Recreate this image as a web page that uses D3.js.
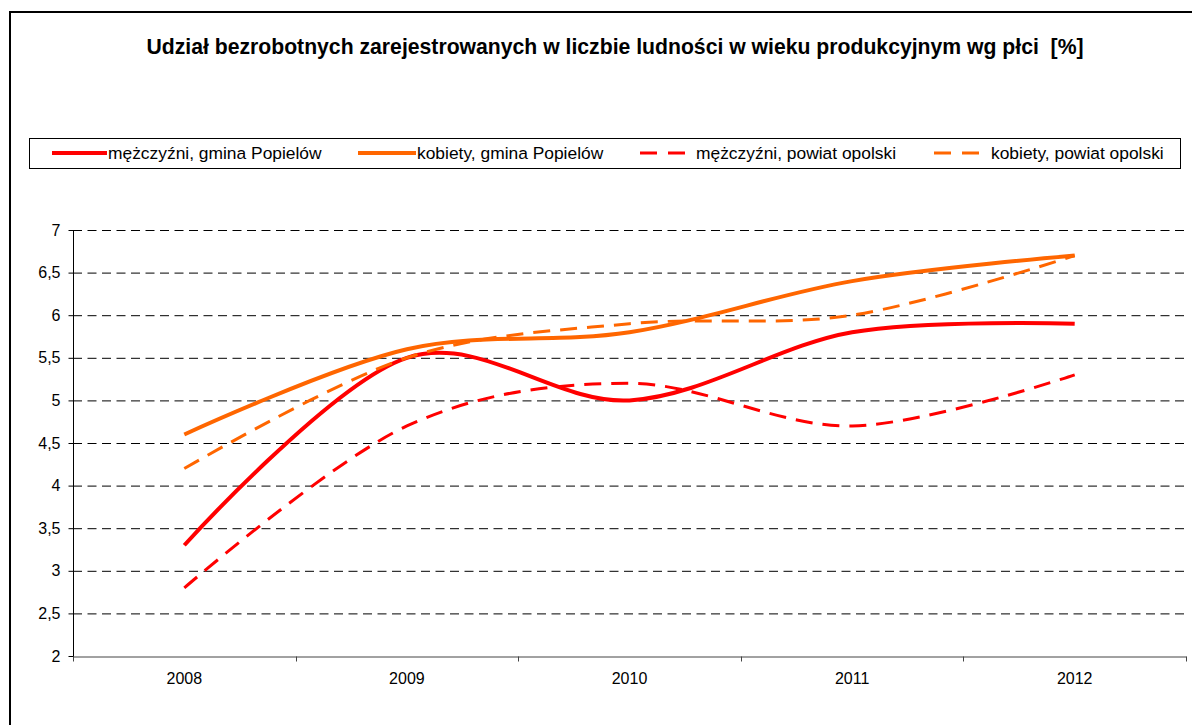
<!DOCTYPE html>
<html><head><meta charset="utf-8">
<script src="https://cdn.jsdelivr.net/npm/d3@7"></script>
<style>body{margin:0;background:#fff}svg{display:block;font-family:"Liberation Sans",Arial,sans-serif}</style>
</head><body>
<svg id="c" width="1192" height="725"></svg>
<script>
const title = "Udział bezrobotnych zarejestrowanych w liczbie ludności w wieku produkcyjnym wg płci  [%]";
const years = ["2008","2009","2010","2011","2012"];
const menGmina = [3.3, 5.5, 5.0, 5.8, 5.9];
const womenGmina = [4.6, 5.6, 5.8, 6.4, 6.7];
const menPowiat = [2.8, 4.7, 5.2, 4.7, 5.3];
const womenPowiat = [4.2, 5.5, 5.9, 6.0, 6.7];
const yTicks = [2, 2.5, 3, 3.5, 4, 4.5, 5, 5.5, 6, 6.5, 7];
const seriesNames = ["mężczyźni, gmina Popielów","kobiety, gmina Popielów","mężczyźni, powiat opolski","kobiety, powiat opolski"];

const series = [
  {name: seriesNames[0], values: menGmina, color: "#FF0000", dash: null, w: 4},
  {name: seriesNames[1], values: womenGmina, color: "#FF6600", dash: null, w: 4},
  {name: seriesNames[2], values: menPowiat, color: "#FF0000", dash: "17,10", w: 3},
  {name: seriesNames[3], values: womenPowiat, color: "#FF6600", dash: "17,10", w: 3}
];

const svg = d3.select("#c");
svg.append("rect").attr("x",10).attr("y",12).attr("width",1200).attr("height",730)
  .attr("fill","none").attr("stroke","#000").attr("stroke-width",2);

svg.append("text").attr("x",615).attr("y",54).attr("text-anchor","middle")
  .attr("font-weight","bold").attr("font-size",21.2).attr("xml:space","preserve").text(title);

const x = d3.scaleBand().domain(years).range([73,1186]);
const y = d3.scaleLinear().domain([2,7]).range([656,230]);
const fmt = d => String(d).replace(".", ",");

svg.append("g").selectAll("line").data(yTicks.filter(d=>d>2)).join("line")
  .attr("x1",73).attr("x2",1186).attr("y1",d=>y(d)+0.5).attr("y2",d=>y(d)+0.5)
  .attr("stroke","#000").attr("stroke-width",1).attr("stroke-dasharray","9,5.5");

const ya = svg.append("g").attr("transform","translate(73.5,0)")
  .call(d3.axisLeft(y).tickValues(yTicks).tickFormat(fmt).tickSize(5).tickPadding(8));
ya.select(".domain").attr("stroke","#000").attr("d","M0,"+y(7)+"V"+(y(2)+5));
ya.selectAll("text").attr("font-size",16).attr("fill","#000").attr("font-family","Liberation Sans, Arial, sans-serif");
ya.selectAll(".tick line").attr("stroke","#000");

const xa = svg.append("g").attr("transform","translate(0,"+(y(2)+0.5)+")")
  .call(d3.axisBottom(x).tickSize(0).tickPadding(16));
xa.select(".domain").attr("stroke","#444");
xa.selectAll("text").attr("font-size",16).attr("fill","#000").attr("font-family","Liberation Sans, Arial, sans-serif");
const bounds = years.map(d=>x(d)).concat([x(years[years.length-1])+x.bandwidth()]);
xa.append("g").selectAll("line").data(bounds).join("line")
  .attr("x1",d=>Math.round(d)+0.5).attr("x2",d=>Math.round(d)+0.5).attr("y1",0).attr("y2",5).attr("stroke","#444");

const cx = d => x(d) + x.bandwidth()/2;
const line = d3.line().x((v,i)=>cx(years[i])).y(v=>y(v)).curve(d3.curveCardinal.tension(0));
svg.append("g").selectAll("path").data(series).join("path")
  .attr("d",s=>line(s.values)).attr("fill","none")
  .attr("stroke",s=>s.color).attr("stroke-width",s=>s.w)
  .attr("stroke-dasharray",s=>s.dash).attr("stroke-linejoin","round");

svg.append("rect").attr("x",29.5).attr("y",138.5).attr("width",1151).attr("height",30)
  .attr("fill","#fff").attr("stroke","#000").attr("stroke-width",1);
const legPos = [{x1:52,x2:107,tx:108},{x1:358,x2:416,tx:417},{x1:640,x2:685,tx:696},{x1:934,x2:981,tx:991}];
const lg = svg.append("g").selectAll("g").data(series).join("g");
lg.append("line").attr("x1",(s,i)=>legPos[i].x1).attr("x2",(s,i)=>legPos[i].x2)
  .attr("y1",153).attr("y2",153).attr("stroke",s=>s.color).attr("stroke-width",s=>s.w)
  .attr("stroke-dasharray",s=>s.dash ? "17,11" : null);
lg.append("text").attr("x",(s,i)=>legPos[i].tx).attr("y",159).attr("font-size",17.4).text(s=>s.name);
</script>
</body></html>
